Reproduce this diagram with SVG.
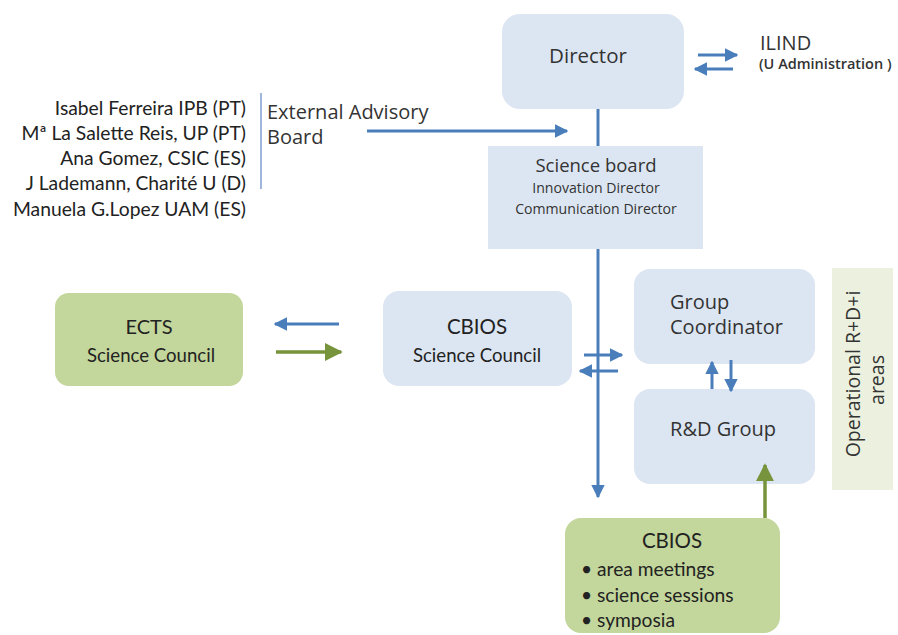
<svg xmlns="http://www.w3.org/2000/svg" width="898" height="635" viewBox="0 0 898 635">
<defs>
<marker id="ab" viewBox="0 0 10 10" refX="9" refY="5" markerWidth="4.5" markerHeight="4.5" orient="auto" markerUnits="strokeWidth"><path d="M0,0 L10,5 L0,10 z" fill="#4a7ebb"/></marker>
<marker id="ag" viewBox="0 0 10 10" refX="9" refY="5" markerWidth="5.2" markerHeight="5.2" orient="auto" markerUnits="strokeWidth"><path d="M0,0 L10,5 L0,10 z" fill="#77933c"/></marker>
<style>
.blue{fill:#dce6f2;}
.green{fill:#c3d69b;}
.t{font-family:"Open Sans","Noto Sans",sans-serif;fill:#333;}
.c{font-family:Lato,"Liberation Sans",sans-serif;fill:#222;}
.lb{stroke:#4a7ebb;stroke-width:3;fill:none;}
.lg{stroke:#77933c;stroke-width:3.5;fill:none;}
</style>
</defs>
<rect width="898" height="635" fill="#fff"/>

<g id="director">
<rect class="blue" x="502" y="14" width="182" height="95" rx="18"/>
<text class="t" x="588" y="63" font-size="20.5" text-anchor="middle">Director</text>
</g>
<g id="ilind">
<text class="t" x="760" y="50" font-size="20">ILIND</text>
<text class="t" x="759" y="69" font-size="14.5" font-weight="600">(U Administration )</text>
</g>
<g id="science-board">
<rect class="blue" x="488" y="146" width="215" height="103"/>
<text class="t" x="596" y="172" font-size="18.5" text-anchor="middle">Science board</text>
<text class="t" x="596" y="193" font-size="14.1" text-anchor="middle">Innovation Director</text>
<text class="t" x="596" y="214" font-size="14.1" text-anchor="middle">Communication Director</text>
</g>
<g id="advisory">
<line x1="261" y1="93" x2="261" y2="189" stroke="#7f9fd0" stroke-width="1.5"/>
<text class="t" x="267" y="119" font-size="20">External Advisory</text>
<text class="t" x="267" y="144" font-size="20">Board</text>
<g class="c" font-size="19.3" text-anchor="end">
<text x="246" y="115">Isabel Ferreira IPB (PT)</text>
<text x="246" y="140">Mª La Salette Reis, UP (PT)</text>
<text x="246" y="165">Ana Gomez, CSIC (ES)</text>
<text x="246" y="190">J Lademann, Charité U (D)</text>
<text x="246" y="216">Manuela G.Lopez UAM (ES)</text>
</g>
</g>
<g id="ects">
<rect class="green" x="55" y="293" width="188" height="93" rx="14"/>
<text class="c" x="149" y="334" font-size="20" text-anchor="middle">ECTS</text>
<text class="c" x="151" y="362" font-size="18.6" text-anchor="middle">Science Council</text>
</g>
<g id="cbios-council">
<rect class="blue" x="383" y="291" width="189" height="95" rx="16"/>
<text class="c" x="477" y="334" font-size="20.5" text-anchor="middle">CBIOS</text>
<text class="c" x="477" y="362" font-size="18.6" text-anchor="middle">Science Council</text>
</g>
<g id="group-coordinator">
<rect class="blue" x="634" y="269" width="181" height="95" rx="16"/>
<text class="t" x="670" y="309" font-size="20">Group</text>
<text class="t" x="670" y="334" font-size="20">Coordinator</text>
</g>
<g id="rd-group">
<rect class="blue" x="634" y="389" width="181" height="95" rx="16"/>
<text class="t" x="723" y="436" font-size="20" text-anchor="middle">R&amp;D Group</text>
</g>
<g id="operational">
<rect x="832" y="268" width="61" height="222" fill="#ebf1de"/>
<g class="t" font-size="19.5" text-anchor="middle">
<text transform="translate(860,374) rotate(-90)">Operational R+D+i</text>
<text transform="translate(884,380) rotate(-90)">areas</text>
</g>
</g>
<g id="cbios-events">
<rect class="green" x="565" y="518" width="215" height="115" rx="16"/>
<text class="c" x="672" y="548" font-size="20.5" text-anchor="middle">CBIOS</text>
<g class="c" font-size="19.2">
<text x="581" y="576">• area meetings</text>
<text x="581" y="602">• science sessions</text>
<text x="581" y="627">• symposia</text>
</g>
</g>

<g id="connectors">
<line class="lb" x1="598" y1="109" x2="598" y2="146"/>
<line class="lb" x1="367" y1="131" x2="567" y2="131" marker-end="url(#ab)"/>
<line class="lb" x1="698" y1="55" x2="737" y2="55" marker-end="url(#ab)"/>
<line class="lb" x1="733" y1="69" x2="695" y2="69" marker-end="url(#ab)"/>
<line class="lb" x1="598" y1="249" x2="598" y2="497" marker-end="url(#ab)"/>
<line class="lb" x1="339" y1="324" x2="275" y2="324" marker-end="url(#ab)"/>
<line class="lg" x1="276" y1="352" x2="341" y2="352" marker-end="url(#ag)"/>
<line class="lb" x1="584" y1="355" x2="622" y2="355" marker-end="url(#ab)"/>
<line class="lb" x1="618" y1="371" x2="580" y2="371" marker-end="url(#ab)"/>
<line class="lb" x1="712" y1="389" x2="712" y2="362" marker-end="url(#ab)"/>
<line class="lb" x1="731" y1="360" x2="731" y2="391" marker-end="url(#ab)"/>
<line class="lg" x1="765" y1="518" x2="765" y2="465" marker-end="url(#ag)"/>
</g>
</svg>
